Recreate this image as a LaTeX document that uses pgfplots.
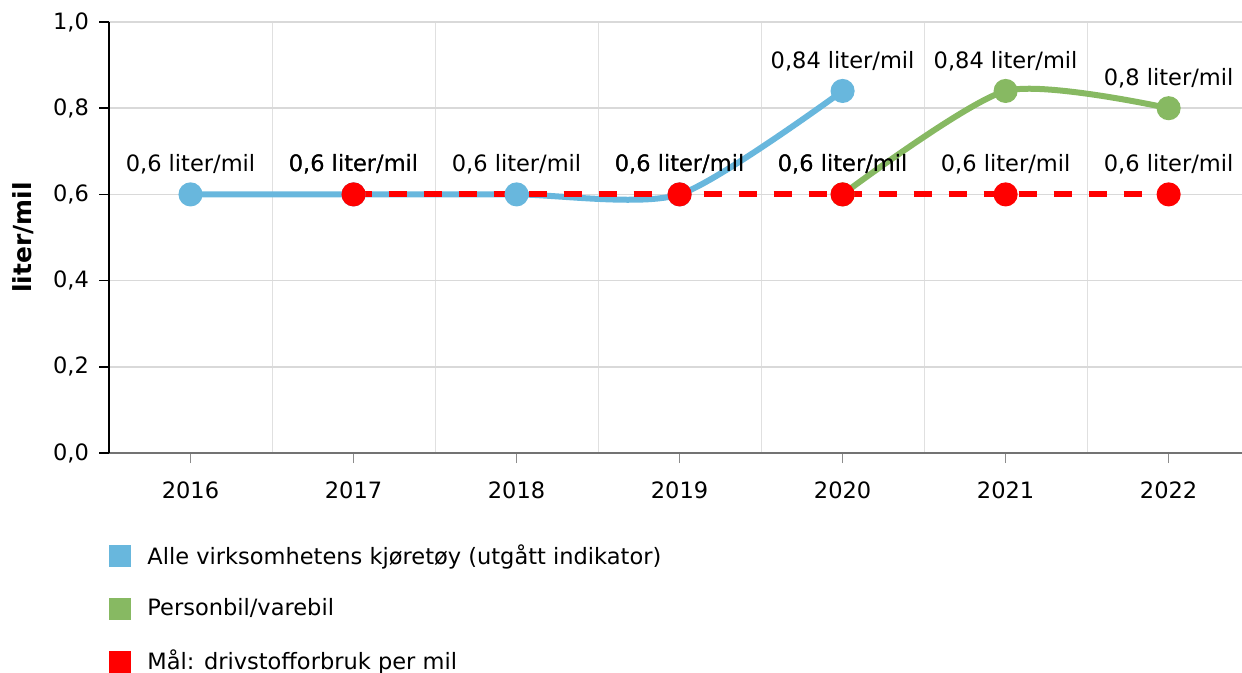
\documentclass[border=0pt]{standalone}
\usepackage{pgfplots}
\pgfplotsset{compat=1.18}
\usepackage{fontspec}
\setmainfont{DejaVu Sans}
\usetikzlibrary{calc}
\definecolor{cblue}{RGB}{104,183,221}
\definecolor{cgreen}{RGB}{135,185,98}
\definecolor{cred}{RGB}{255,0,0}
\newcommand{\tfont}{\fontsize{11.3}{13.5}\selectfont}
\begin{document}
\begin{tikzpicture}
\begin{axis}[
 scale only axis, width=566.5bp, height=215.5bp,
 xmin=2015.5, xmax=2022.45, ymin=0, ymax=1,
 clip=false,
 axis x line=bottom, axis y line=left, axis line style={-},
 x axis line style={draw=black!55, line width=0.75bp},
 y axis line style={draw=black, line width=0.75bp},
 xtick={2016,2017,2018,2019,2020,2021,2022},
 xticklabels={2016,2017,2018,2019,2020,2021,2022},
 minor xtick={2016.5,2017.5,2018.5,2019.5,2020.5,2021.5},
 xminorgrids=true, minor x grid style={draw=black!12, line width=0.5bp},
 ymajorgrids=true, major y grid style={draw=black!15, line width=0.75bp},
 minor tick length=0pt, major tick length=5bp, tick align=outside,
 xtick style={draw=black!45, line width=0.5bp},
 ytick style={draw=black, line width=0.75bp},
 ytick={0,0.2,0.4,0.6,0.8,1},
 yticklabel style={xshift=-1.5bp, /pgf/number format/.cd, fixed, fixed zerofill, precision=1, use comma, assume math mode=true},
 xticklabel style={yshift=-6bp},
 ticklabel style={font=\tfont},
 ylabel={\bfseries liter/mil},
 ylabel style={font=\fontsize{12.5}{15}\selectfont, at={(axis description cs:-0.076,0.5)}, anchor=center},
 legend style={at={(axis description cs:0,0)}, anchor=north west, yshift=-45.5bp,
   draw=none, fill=none, inner sep=0pt, row sep=15.25bp,
   font=\tfont,
   nodes={inner sep=0pt},
   /tikz/every odd column/.style={column sep=8bp}},
 legend cell align=left,
 legend image code/.code={\path[fill, draw=none, solid] (0bp,-5.5bp) rectangle (11bp,5.5bp);},
 nodes near coords={\pgfmathprintnumber[assume math mode=true,use comma]{\pgfplotspointmeta} liter/mil},
 every node near coord/.append style={font=\tfont, text=black, anchor=center, yshift=15bp},
 mark size=4.5bp,
]
\addplot[color=cblue, line width=3bp, smooth, tension=0.42, mark=*] coordinates {
 (2016,0.6) (2017,0.6) (2018,0.6) (2019,0.6) (2020,0.84)};
\addlegendentry{Alle virksomhetens kjøretøy (utgått indikator)}
\addplot[color=cgreen, line width=3bp, smooth, tension=0.42, mark=*] coordinates {
 (2020,0.6) (2021,0.84) (2022,0.8)};
\addlegendentry{Personbil/varebil}
\addplot[color=cred, line width=3bp, dash pattern=on 9.25bp off 8.25bp, mark=*, mark options={solid}] coordinates {
 (2017,0.6) (2019,0.6) (2020,0.6) (2021,0.6) (2022,0.6)};
\addlegendentry{Mål: drivstofforbruk per mil}
\coordinate (ll) at (rel axis cs:0,0);
\coordinate (ur) at (rel axis cs:1,1);
\end{axis}
\pgfresetboundingbox
\path ($(ll)+(-54.5bp,-110bp)$) rectangle ($(ur)+(0bp,11bp)$);
\end{tikzpicture}
\end{document}
